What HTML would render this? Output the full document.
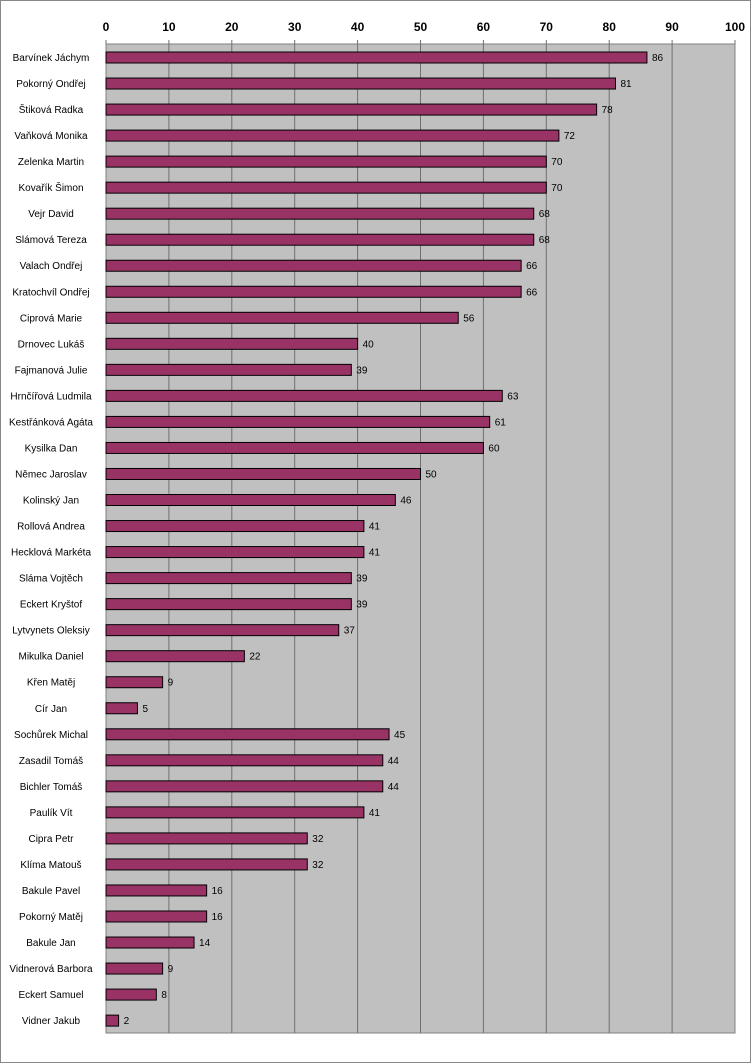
<!DOCTYPE html>
<html><head><meta charset="utf-8"><style>
html,body{margin:0;padding:0;background:#fff}
svg{display:block;font-family:"Liberation Sans",Arial,sans-serif}
</style></head><body>
<svg id="s" width="752" height="1064" xmlns="http://www.w3.org/2000/svg">
<rect x="0.5" y="0.5" width="750" height="1062" fill="#fff" stroke="#888"/>
<rect x="106" y="44" width="629" height="989" fill="#c0c0c0" stroke="#808080"/>
<g id="g"></g>
</svg>
<script>
var d=[["Barvínek Jáchym",86],["Pokorný Ondřej",81],["Štiková Radka",78],["Vaňková Monika",72],["Zelenka Martin",70],["Kovařík Šimon",70],["Vejr David",68],["Slámová Tereza",68],["Valach Ondřej",66],["Kratochvíl Ondřej",66],["Ciprová Marie",56],["Drnovec Lukáš",40],["Fajmanová Julie",39],["Hrnčířová Ludmila",63],["Kestřánková Agáta",61],["Kysilka Dan",60],["Němec Jaroslav",50],["Kolinský Jan",46],["Rollová Andrea",41],["Hecklová Markéta",41],["Sláma Vojtěch",39],["Eckert Kryštof",39],["Lytvynets Oleksiy",37],["Mikulka Daniel",22],["Křen Matěj",9],["Cír Jan",5],["Sochůrek Michal",45],["Zasadil Tomáš",44],["Bichler Tomáš",44],["Paulík Vít",41],["Cipra Petr",32],["Klíma Matouš",32],["Bakule Pavel",16],["Pokorný Matěj",16],["Bakule Jan",14],["Vidnerová Barbora",9],["Eckert Samuel",8],["Vidner Jakub",2]];
var h='',x0=106,k=6.29;
for(var i=0;i<=10;i++){var x=x0+i*62.9;
 h+='<line x1="'+x+'" y1="40" x2="'+x+'" y2="44" stroke="#707070"/>';
 if(i>0&&i<10)h+='<line x1="'+x+'" y1="44" x2="'+x+'" y2="1033" stroke="#707070"/>';
 h+='<text x="'+x+'" y="31" font-size="12" font-weight="bold" text-anchor="middle">'+(i*10)+'</text>';}
for(var j=0;j<d.length;j++){var c=57.5+j*26.03,w=d[j][1]*k;
 h+='<rect x="'+x0+'" y="'+(c-5.5)+'" width="'+w+'" height="11" fill="#993366" stroke="#000"/>';
 h+='<text x="51" y="'+(c+3.5)+'" font-size="10" text-anchor="middle">'+d[j][0]+'</text>';
 h+='<text x="'+(x0+w+5)+'" y="'+(c+3.5)+'" font-size="10">'+d[j][1]+'</text>';}
document.getElementById('g').innerHTML=h;
</script>
</body></html>
